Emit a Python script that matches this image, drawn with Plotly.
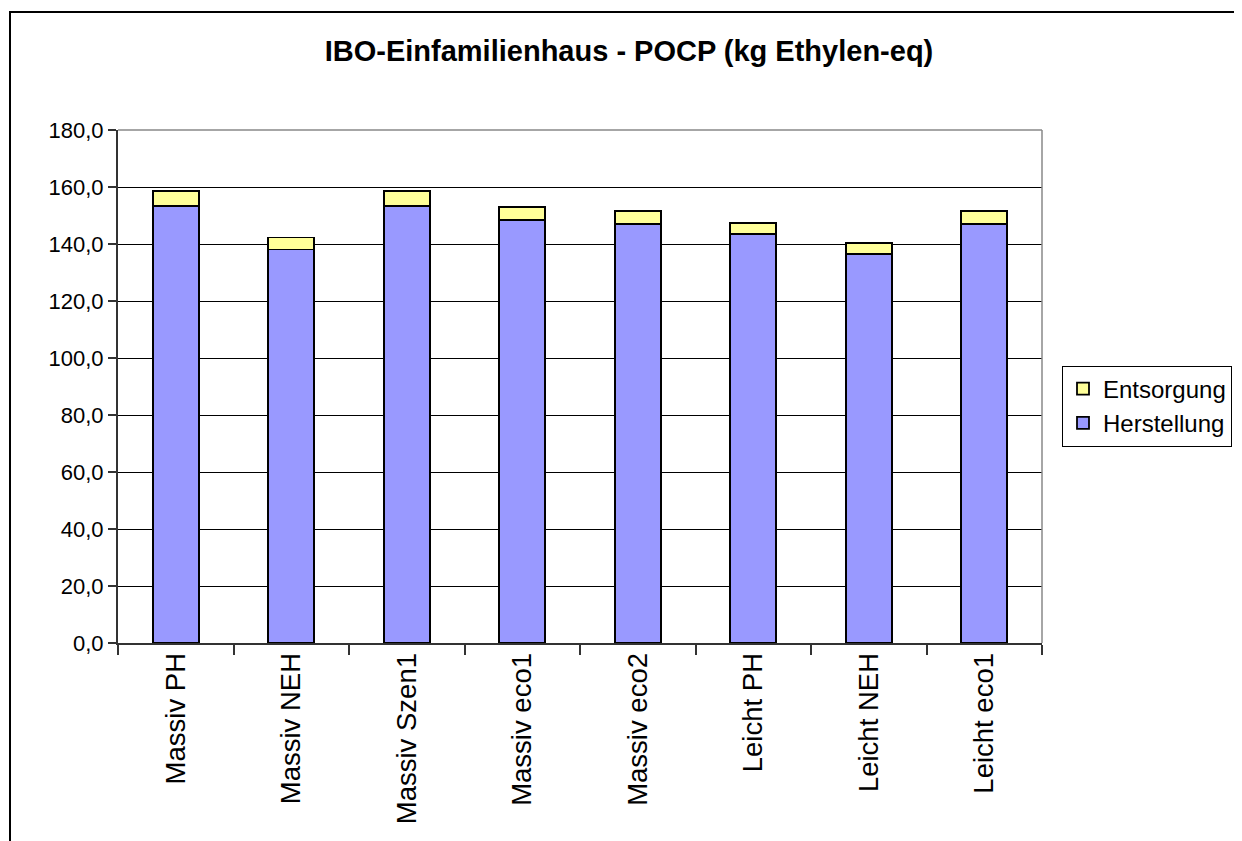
import plotly.graph_objects as go

categories = ["Massiv PH", "Massiv NEH", "Massiv Szen1", "Massiv eco1",
              "Massiv eco2", "Leicht PH", "Leicht NEH", "Leicht eco1"]
herstellung = [153.4, 138.1, 153.4, 148.4, 147.1, 143.5, 136.6, 147.1]
entsorgung = [5.2, 4.2, 5.2, 4.5, 4.4, 3.9, 3.7, 4.4]
y_ticks = [0, 20, 40, 60, 80, 100, 120, 140, 160, 180]
y_tick_labels = ["0,0", "20,0", "40,0", "60,0", "80,0", "100,0",
                 "120,0", "140,0", "160,0", "180,0"]
title_text = "IBO-Einfamilienhaus - POCP (kg Ethylen-eq)"

FONT = "Liberation Sans, Arial, sans-serif"

fig = go.Figure()
fig.add_trace(go.Bar(
    x=categories, y=herstellung, name="Herstellung",
    marker=dict(color="#9999FF", line=dict(color="black", width=1.8)),
))
fig.add_trace(go.Bar(
    x=categories, y=entsorgung, name="Entsorgung",
    marker=dict(color="#FFFF99", line=dict(color="black", width=1.8)),
))

L, R, T, B = 110, 1242 - 1034, 122, 841 - 635
W, H = 1242 - L - R, 841 - T - B

fig.update_layout(
    width=1242, height=841,
    barmode="stack", bargap=0.6,
    paper_bgcolor="white", plot_bgcolor="white",
    margin=dict(l=L, r=R, t=T, b=B, autoexpand=False),
    font=dict(family=FONT, color="black", size=22),
    title=dict(text="<b>" + title_text + "</b>", x=0.5, xanchor="center",
               y=1 - 43 / 841, yanchor="middle", yref="container",
               font=dict(family=FONT, size=29, color="black")),
    legend=dict(
        traceorder="reversed",
        x=(1054 - L) / W, xanchor="left",
        y=(635 - 398) / H, yanchor="middle",
        bordercolor="black", borderwidth=1, bgcolor="white",
        font=dict(family=FONT, size=24, color="black"),
        itemwidth=30, tracegroupgap=0,
    ),
    showlegend=True,
)

fig.update_xaxes(
    type="category", tickangle=-90, tickson="boundaries",
    ticks="outside", ticklen=10, tickcolor="#333333", tickwidth=1.5,
    ticklabelstandoff=-3,
    showline=True, linecolor="#333333", linewidth=2,
    showgrid=False, tickfont=dict(family=FONT, size=27.5, color="black"),
)
fig.update_yaxes(
    range=[0, 180], tickvals=y_ticks, ticktext=y_tick_labels,
    ticks="outside", ticklen=8, tickcolor="#333333", tickwidth=1.5,
    ticklabelstandoff=0,
    showline=True, linecolor="#333333", linewidth=2,
    showgrid=True, gridcolor="black", gridwidth=1,
    zeroline=False,
    tickfont=dict(family=FONT, size=22, color="black"),
)

# plot-area border (top/right, grey)
fig.add_shape(type="line", xref="paper", yref="paper", x0=0, x1=1, y0=1, y1=1,
              line=dict(color="#888888", width=1.5))
fig.add_shape(type="line", xref="paper", yref="paper", x0=1, x1=1, y0=0, y1=1,
              line=dict(color="#888888", width=1.5))
# outer chart border
fig.add_shape(type="rect", xref="paper", yref="paper",
              x0=(2 - L) / W, x1=1.5, y0=-0.6, y1=(635 - 4) / H,
              line=dict(color="black", width=2), fillcolor="rgba(0,0,0,0)")

fig.write_html("out.html")
